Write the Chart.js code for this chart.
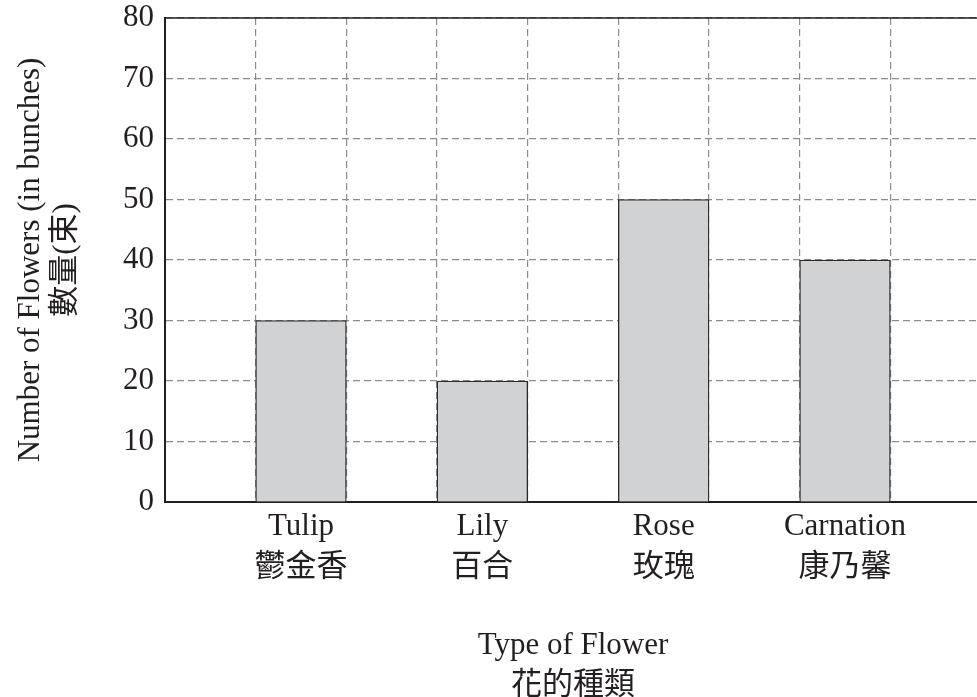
<!DOCTYPE html>
<html>
<head>
<meta charset="utf-8">
<script src="https://cdn.jsdelivr.net/npm/chart.js@4"></script>
<style>
  html, body { margin: 0; padding: 0; background: #fff; overflow: hidden; }
  #wrap { position: relative; width: 990px; height: 697px; }
</style>
</head>
<body>
<div id="wrap"><canvas id="flowerChart"></canvas></div>
<script>
// Data
const flowers = ['Tulip', 'Lily', 'Rose', 'Carnation'];
const flowersZh = ['鬱金香', '百合', '玫瑰', '康乃馨'];
const bunches = [30, 20, 50, 40];
const yMin = 0;
const yMax = 80;
const yStep = 10;

// Each flower sits in every second slot, empty slots between (9 slots in all)
const slotLabels = [''];
const slotValues = [null];
flowers.forEach((name, i) => {
  slotLabels.push([name, flowersZh[i]]);
  slotValues.push(bunches[i]);
  slotLabels.push('');
  slotValues.push(null);
});

const ink = '#231f20';
const serif = "'Liberation Serif', 'Noto Sans CJK TC', serif";

// solid bar outlines + top edge of the plot frame
const frame = {
  id: 'frame',
  beforeDatasetsDraw(chart) {
    chart.ctx.setLineDash([]);
  },
  afterDatasetsDraw(chart) {
    const { ctx, chartArea: a } = chart;
    ctx.save();
    ctx.setLineDash([]);
    ctx.strokeStyle = ink;
    ctx.lineWidth = 1.5;
    ctx.beginPath();
    ctx.moveTo(a.left, a.top);
    ctx.lineTo(a.right, a.top);
    ctx.stroke();
    ctx.restore();
  }
};

new Chart(document.getElementById('flowerChart'), {
  type: 'bar',
  data: {
    labels: slotLabels,
    datasets: [{
      data: slotValues,
      backgroundColor: '#d1d2d4',
      borderColor: '#2a2a2a',
      borderWidth: 1.3,
      barPercentage: 1,
      categoryPercentage: 1
    }]
  },
  options: {
    responsive: true,
    maintainAspectRatio: false,
    animation: false,
    layout: { padding: { top: 0, right: 9, left: 0, bottom: 0 } },
    plugins: {
      legend: { display: false },
      tooltip: { enabled: false }
    },
    scales: {
      x: {
        grid: { color: '#8c8c8c', lineWidth: 1.2, drawTicks: false },
        border: { display: true, color: ink, width: 2, dash: [7, 4] },
        ticks: {
          color: ink,
          padding: 5,
          maxRotation: 0,
          autoSkip: false,
          font: { family: serif, size: 31, lineHeight: 1.3 }
        },
        title: {
          display: true,
          text: ['Type of Flower', '花的種類'],
          color: ink,
          padding: { top: 0, bottom: -9 },
          font: { family: serif, size: 31, lineHeight: 1.3 }
        },
        afterFit(scale) { scale.height = 195; }
      },
      y: {
        min: yMin,
        max: yMax,
        grid: { color: '#8c8c8c', lineWidth: 1.2, drawTicks: false },
        border: { display: true, color: ink, width: 2, dash: [7, 4] },
        ticks: {
          stepSize: yStep,
          color: ink,
          padding: 11,
          font: { family: serif, size: 31 }
        },
        title: {
          display: true,
          text: ['Number of Flowers (in bunches)', '數量(束)'],
          color: ink,
          padding: { top: 13, bottom: 0 },
          font: { family: serif, size: 31, lineHeight: 1.13 }
        },
        afterFit(scale) {
          scale.width = 165;
          scale.paddingTop = 18;
        }
      }
    }
  },
  plugins: [frame]
});
</script>
</body>
</html>
